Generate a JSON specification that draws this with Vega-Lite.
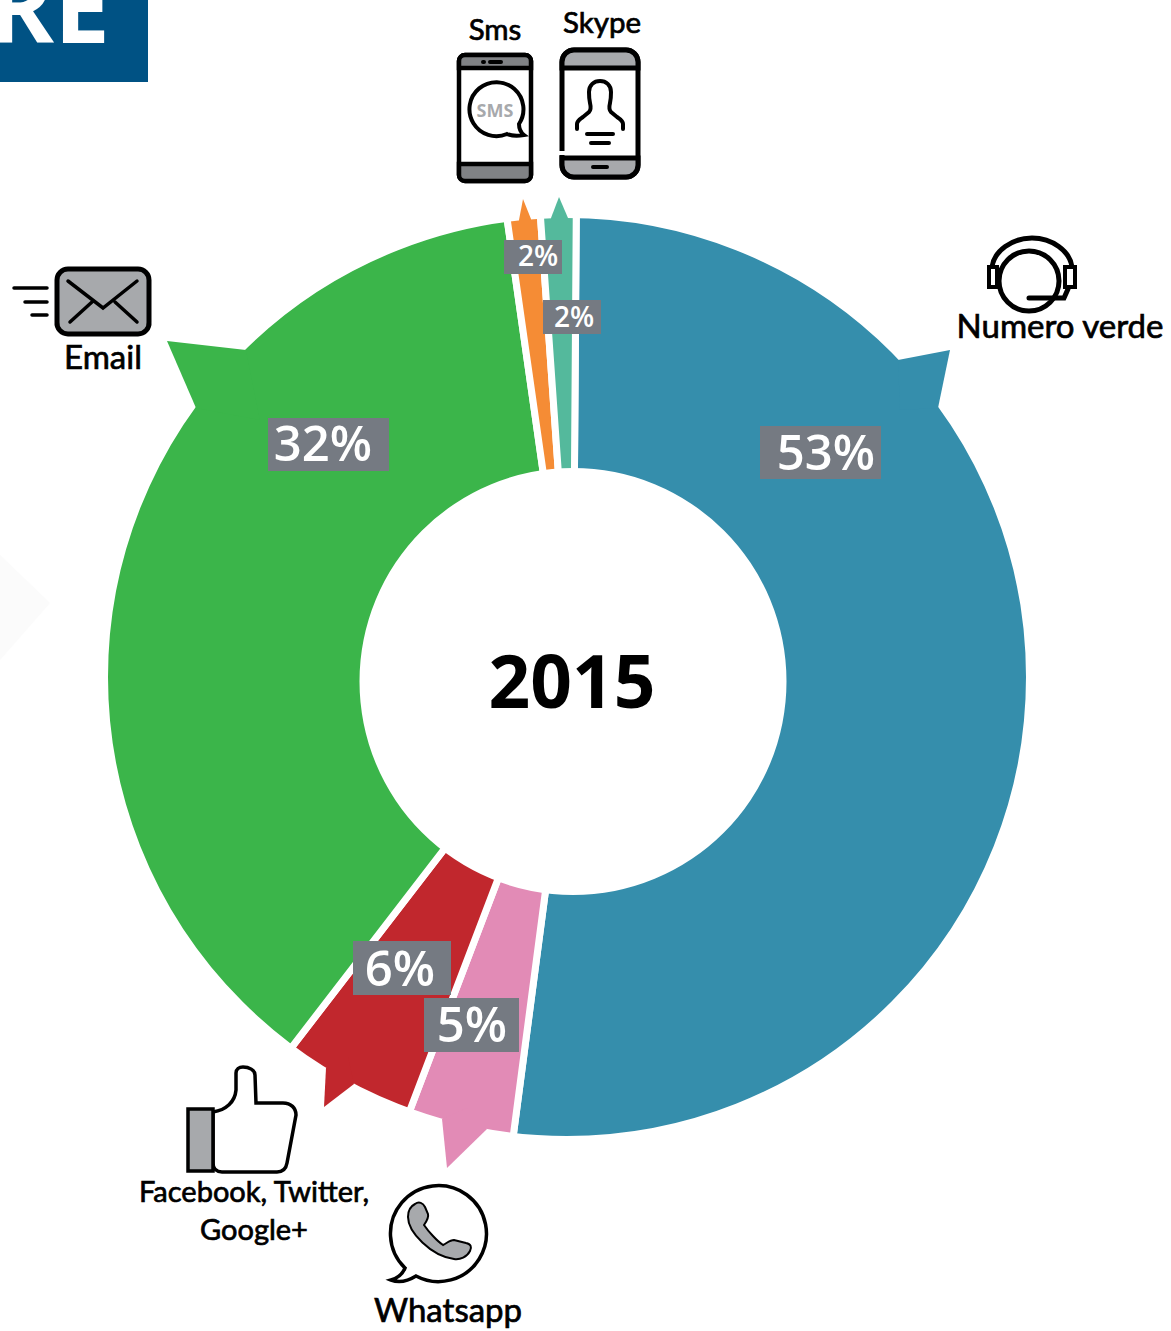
{
"$schema":"https://vega.github.io/schema/vega-lite/v6.json",
"width":1171,"height":1331,"padding":0,"autosize":{"type":"none"},"background":"white",
"config":{"view":{"stroke":null}},
"datasets":{
"slices":[
{"channel":"Numero verde","label":"53%","start":0.4,"end":187.5},
{"channel":"Whatsapp","label":"5%","start":187.5,"end":200.85},
{"channel":"Facebook, Twitter, Google+","label":"6%","start":200.85,"end":217.6},
{"channel":"Email","label":"32%","start":217.6,"end":351.9},
{"channel":"Sms","label":"2%","start":351.9,"end":356},
{"channel":"Skype","label":"2%","start":356,"end":360.4}],
"ring":[{"x":567,"y":677}],
"tipBlue":[{"channel":"Numero verde","x":950,"y":350}],
"tipGreen":[{"channel":"Email","x":167,"y":341}],
"tipOrange":[{"channel":"Sms","x":523,"y":199}],
"tipTeal":[{"channel":"Skype","x":559,"y":197}],
"tipRed":[{"channel":"Facebook, Twitter, Google+","x":324,"y":1107}],
"tipPink":[{"channel":"Whatsapp","x":447,"y":1168}],
"bigLabels":[
{"label":"53%","x":826,"y":455,"x0":760,"x1":881,"y0":426,"y1":479},
{"label":"32%","x":323,"y":446,"x0":268,"x1":389,"y0":418,"y1":471},
{"label":"6%","x":400,"y":971,"x0":353,"x1":451,"y0":941,"y1":995},
{"label":"5%","x":472,"y":1027,"x0":424,"x1":519,"y0":998,"y1":1052}],
"smallLabels":[
{"label":"2%","x":538,"y":258,"x0":504,"x1":562,"y0":240,"y1":274},
{"label":"2%","x":574,"y":319,"x0":543,"x1":601,"y0":300,"y1":334}],
"capA":[{"text":"Sms","x":495,"y":31},{"text":"Skype","x":602,"y":24}],
"capB":[{"text":"Email","x":103,"y":359},{"text":"Numero verde","x":1060,"y":328},{"text":"Whatsapp","x":448,"y":1312}],
"capC":[{"text":"Facebook, Twitter,","x":254,"y":1193},{"text":"Google+","x":254,"y":1231}],
"year":[{"text":"2015","x":572,"y":686}],
"hole":[{"x":573,"y":681.5}],
"banner":[{"x0":0,"x1":148,"y0":0,"y1":82}],
"bannerText":[{"text":"RE","x":110,"y":43}],
"chevron":[{"x":0,"y":605}],
"sms":[{"icon":"Sms","x":495,"y":118}],
"smsText":[{"text":"SMS","x":495,"y":112}],
"skype":[{"icon":"Skype","x":600,"y":113}],
"email":[{"icon":"Email","x":103,"y":301}],
"thumb":[{"icon":"Facebook","x":241,"y":1120}],
"whatsapp":[{"icon":"Whatsapp","x":439,"y":1234}],
"headset":[{"icon":"Numero verde","x":1032,"y":275}]
},
"layer":[
{"data":{"name":"slices"},"mark":{"type":"arc","outerRadius":475,"innerRadius":200,"stroke":"white","strokeWidth":7},
 "encoding":{
 "x":{"datum":573,"type":"quantitative","scale":{"domain":[0,1171],"range":[0,1171]},"axis":null},
 "y":{"datum":682,"type":"quantitative","scale":{"domain":[0,1331],"range":[0,1331]},"axis":null},
 "theta":{"field":"start","type":"quantitative","stack":null,"scale":{"domain":[0,360],"range":[0,6.283185]}},"theta2":{"field":"end"},
 "color":{"field":"channel","type":"nominal","legend":null,"scale":{"domain":["Numero verde","Whatsapp","Facebook, Twitter, Google+","Email","Sms","Skype"],"range":["#358eac","#e28bb6","#c1272d","#3bb54a","#f58c35","#54b99c"]}}}},
{"encoding":{
"x":{"field":"x","type":"quantitative","scale":{"domain":[0,1171],"range":[0,1171]},"axis":null},
"y":{"field":"y","type":"quantitative","scale":{"domain":[0,1331],"range":[0,1331]},"axis":null}
},
"layer":[
{"data":{"name":"ring"},"mark":{"type":"point","filled":false,"opacity":1,"shape":"circle","stroke":"white","strokeWidth":26,"size":891136}},
{"data":{"name":"chevron"},"mark":{"type":"point","filled":true,"opacity":1,"size":4,"fill":"#fbfbfb","strokeWidth":0,"shape":"M0,-50L50,-2L0,55Z"}},
{"data":{"name":"banner"},"mark":{"type":"rect","fill":"#005284"},"encoding":{"x":{"field":"x0","type":"quantitative"},"x2":{"field":"x1"},"y":{"field":"y0","type":"quantitative"},"y2":{"field":"y1"}}},
{"data":{"name":"bannerText"},"mark":{"type":"text","align":"right","baseline":"alphabetic","font":"Open Sans","fontWeight":"bold","fontSize":100,"fill":"white"},"encoding":{"text":{"field":"text"}}},
{"data":{"name":"tipBlue"},"mark":{"type":"point","filled":true,"opacity":1,"size":4,"strokeWidth":0,"shape":"M-52,10L0,0L-12,58L-50,60Z"},"encoding":{"color":{"field":"channel","type":"nominal"}}},
{"data":{"name":"tipGreen"},"mark":{"type":"point","filled":true,"opacity":1,"size":4,"strokeWidth":0,"shape":"M79,9L0,0L29,67L93,79Z"},"encoding":{"color":{"field":"channel","type":"nominal"}}},
{"data":{"name":"tipOrange"},"mark":{"type":"point","filled":true,"opacity":1,"size":4,"strokeWidth":0,"shape":"M0,0L8,20L8,30L-4,30L-4,21Z"},"encoding":{"color":{"field":"channel","type":"nominal"}}},
{"data":{"name":"tipTeal"},"mark":{"type":"point","filled":true,"opacity":1,"size":4,"strokeWidth":0,"shape":"M0,0L9,21L9,30L-8,30L-8,21Z"},"encoding":{"color":{"field":"channel","type":"nominal"}}},
{"data":{"name":"tipRed"},"mark":{"type":"point","filled":true,"opacity":1,"size":4,"strokeWidth":0,"shape":"M2,-39L0,0L30,-23L24,-50Z"},"encoding":{"color":{"field":"channel","type":"nominal"}}},
{"data":{"name":"tipPink"},"mark":{"type":"point","filled":true,"opacity":1,"size":4,"strokeWidth":0,"shape":"M-5,-49L0,0L40,-39L20,-60Z"},"encoding":{"color":{"field":"channel","type":"nominal"}}},
{"data":{"name":"hole"},"mark":{"type":"point","filled":true,"opacity":1,"shape":"circle","fill":"white","strokeWidth":0,"size":182329}},
{"data":{"name":"year"},"mark":{"type":"text","font":"Open Sans","fontWeight":"bold","fontSize":73,"fill":"black","baseline":"middle"},"encoding":{"text":{"field":"text"}}},
{"data":{"name":"bigLabels"},"mark":{"type":"rect","fill":"#757a82"},"encoding":{"x":{"field":"x0","type":"quantitative"},"x2":{"field":"x1"},"y":{"field":"y0","type":"quantitative"},"y2":{"field":"y1"}}},
{"data":{"name":"smallLabels"},"mark":{"type":"rect","fill":"#757a82"},"encoding":{"x":{"field":"x0","type":"quantitative"},"x2":{"field":"x1"},"y":{"field":"y0","type":"quantitative"},"y2":{"field":"y1"}}},
{"data":{"name":"bigLabels"},"mark":{"type":"text","font":"Open Sans","fontWeight":600,"fontSize":49,"fill":"white","baseline":"middle"},"encoding":{"text":{"field":"label"}}},
{"data":{"name":"smallLabels"},"mark":{"type":"text","font":"Open Sans","fontWeight":600,"fontSize":28,"fill":"white","baseline":"middle"},"encoding":{"text":{"field":"label"}}},
{"data":{"name":"capA"},"mark":{"type":"text","font":"Lato","fontSize":29.5,"fill":"black","stroke":"black","strokeWidth":0.7,"baseline":"middle"},"encoding":{"text":{"field":"text"}}},
{"data":{"name":"capB"},"mark":{"type":"text","font":"Lato","fontSize":33,"fill":"black","stroke":"black","strokeWidth":0.7,"baseline":"middle"},"encoding":{"text":{"field":"text"}}},
{"data":{"name":"capC"},"mark":{"type":"text","font":"Lato","fontSize":29,"fill":"black","stroke":"black","strokeWidth":0.7,"baseline":"middle"},"encoding":{"text":{"field":"text"}}},

{"data":{"name":"sms"},"mark":{"type":"point","filled":true,"opacity":1,"size":4,"fill":"white","stroke":"black","strokeWidth":4.5,"shape":"M-30,-63H30A6,6 0 0 1 36,-57V57A6,6 0 0 1 30,63H-30A6,6 0 0 1 -36,57V-57A6,6 0 0 1 -30,-63Z"}},
{"data":{"name":"sms"},"mark":{"type":"point","filled":true,"opacity":1,"size":4,"fill":"#808285","stroke":"black","strokeWidth":4.5,"shape":"M-30,-63H30A6,6 0 0 1 36,-57V-50H-36V-57A6,6 0 0 1 -30,-63ZM-36,46H36V57A6,6 0 0 1 30,63H-30A6,6 0 0 1 -36,57Z"}},
{"data":{"name":"sms"},"mark":{"type":"point","filled":false,"opacity":1,"size":4,"stroke":"black","strokeWidth":4,"strokeCap":"round","shape":"M-5,-56H6M-12,-56H-11"}},
{"data":{"name":"sms"},"mark":{"type":"point","filled":true,"opacity":1,"size":4,"fill":"white","stroke":"black","strokeWidth":4,"shape":"M12,16A27,27 0 1 1 24,6C24,10 25,14 29,17C23,18 17,18 12,16Z"}},
{"data":{"name":"smsText"},"mark":{"type":"text","font":"Open Sans","fontWeight":"bold","fontSize":18,"fill":"#a7a9ac","baseline":"middle"},"encoding":{"text":{"field":"text"}}},

{"data":{"name":"skype"},"mark":{"type":"point","filled":true,"opacity":1,"size":4,"fill":"white","stroke":"black","strokeWidth":5,"shape":"M-26,-63H26A12,12 0 0 1 38,-51V52A12,12 0 0 1 26,64H-26A12,12 0 0 1 -38,52V-51A12,12 0 0 1 -26,-63Z"}},
{"data":{"name":"skype"},"mark":{"type":"point","filled":true,"opacity":1,"size":4,"fill":"#a7a9ac","stroke":"black","strokeWidth":5,"shape":"M-26,-63H26A12,12 0 0 1 38,-51V-45H-38V-51A12,12 0 0 1 -26,-63ZM-38,45H38V52A12,12 0 0 1 26,64H-26A12,12 0 0 1 -38,52Z"}},
{"data":{"name":"skype"},"mark":{"type":"point","filled":false,"opacity":1,"size":4,"stroke":"white","strokeWidth":7,"shape":"M-38,38V42"}},
{"data":{"name":"skype"},"mark":{"type":"point","filled":false,"opacity":1,"size":4,"stroke":"black","strokeWidth":4,"strokeCap":"round","shape":"M-23,16V11C-23,8 -20,6 -17,4L-11,-1C-9,-3 -9,-6 -10,-10C-11,-14 -11,-17 -11,-21C-11,-28 -6,-32 0,-32C6,-32 11,-28 11,-21C11,-17 11,-14 10,-10C9,-6 9,-3 11,-1L17,4C20,6 23,8 23,11V16M-13,21H13M-9,30H9M-7,54H7"}},

{"data":{"name":"email"},"mark":{"type":"point","filled":true,"opacity":1,"size":4,"fill":"#a7a9ac","stroke":"black","strokeWidth":5,"shape":"M-35,-32H35A11,11 0 0 1 46,-21V21A11,11 0 0 1 35,33H-35A11,11 0 0 1 -46,21V-21A11,11 0 0 1 -35,-32Z"}},
{"data":{"name":"email"},"mark":{"type":"point","filled":false,"opacity":1,"size":4,"stroke":"black","strokeWidth":3.5,"strokeCap":"round","shape":"M-35,-20L0,7L34,-20M-33,21L-11,1M34,21L12,1M-89,-13H-56M-78,1H-56M-71,14H-56"}},

{"data":{"name":"thumb"},"mark":{"type":"point","filled":true,"opacity":1,"size":4,"fill":"white","stroke":"black","strokeWidth":3.5,"shape":"M-28,-8C-15,-10 -6,-18 -5,-30L-5,-47C-5,-51 -2,-53 2,-53C8,-53 14,-50 14,-45L15,-17L42,-17C50,-17 55,-12 55,-5L46,43C45,49 41,52 36,52L-19,52C-24,52 -28,49 -28,43Z"}},
{"data":{"name":"thumb"},"mark":{"type":"point","filled":true,"opacity":1,"size":4,"fill":"#a7a9ac","stroke":"black","strokeWidth":3.5,"shape":"M-53,-11H-28V51H-53Z"}},

{"data":{"name":"whatsapp"},"mark":{"type":"point","filled":true,"opacity":1,"size":4,"fill":"white","stroke":"black","strokeWidth":3.5,"shape":"M-23,42A48,48 0 1 0 -34,34C-36,39 -41,44 -48,46C-40,49 -31,47 -23,42Z"}},
{"data":{"name":"whatsapp"},"mark":{"type":"point","filled":true,"opacity":1,"size":4,"fill":"#a7a9ac","stroke":"black","strokeWidth":2,"shape":"M-24,-30C-20,-33 -16,-31 -14,-27L-11,-20C-10,-16 -13,-12 -15,-9C-11,-3 -2,7 4,11C8,9 11,6 15,6L27,9C32,10 33,13 31,17C28,23 21,26 15,25C-8,22 -31,-2 -31,-17C-31,-23 -28,-28 -24,-30Z"}},

{"data":{"name":"headset"},"mark":{"type":"point","filled":false,"opacity":1,"size":4,"stroke":"black","strokeWidth":5,"shape":"M-40,-8C-38,-24 -20,-37 0,-37C20,-37 38,-24 40,-8"}},
{"data":{"name":"headset"},"mark":{"type":"point","filled":true,"opacity":1,"size":4,"fill":"white","stroke":"black","strokeWidth":4,"shape":"M-43,-8H-35V12H-43ZM33,-8H43V12H33Z"}},
{"data":{"name":"headset"},"mark":{"type":"point","filled":true,"opacity":1,"size":4,"fill":"white","stroke":"black","strokeWidth":5,"shape":"M-33,6A30,30 0 1 1 27,6A30,30 0 1 1 -33,6Z"}},
{"data":{"name":"headset"},"mark":{"type":"point","filled":false,"opacity":1,"size":4,"stroke":"black","strokeWidth":5,"strokeCap":"round","shape":"M-3,23H32L36,14"}}
]}
]
}
